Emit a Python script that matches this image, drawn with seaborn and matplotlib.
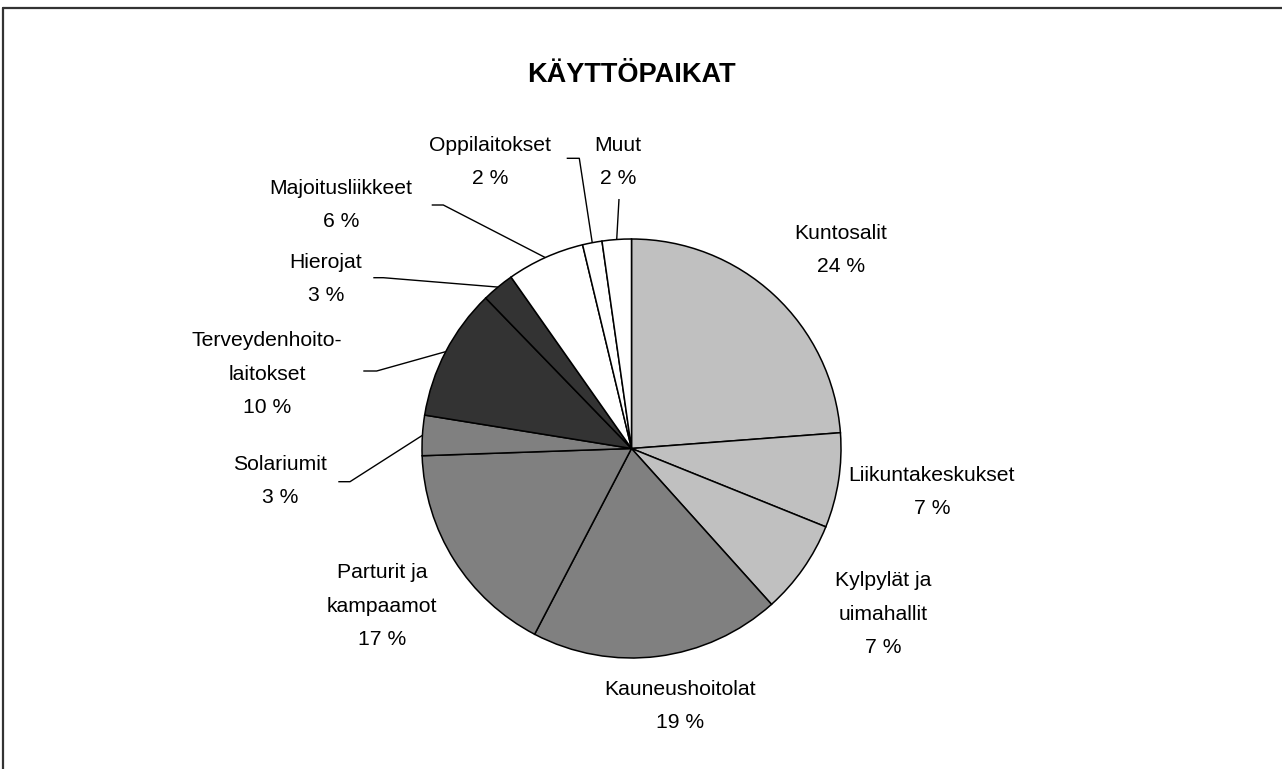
import numpy as np
import matplotlib
matplotlib.use("Agg")
import matplotlib.pyplot as plt
import seaborn as sns

# --- Data ---
categories = ["Kuntosalit", "Liikuntakeskukset", "Kylpylät ja\nuimahallit",
              "Kauneushoitolat", "Parturit ja\nkampaamot", "Solariumit",
              "Terveydenhoito-\nlaitokset", "Hierojat", "Majoitusliikkeet",
              "Oppilaitokset", "Muut"]
shares = [23.8, 7.3, 7.25, 19.3, 16.8, 3.1, 10.2, 2.5, 6.0, 1.5, 2.25]
pct_labels = ["24 %", "7 %", "7 %", "19 %", "17 %", "3 %",
              "10 %", "3 %", "6 %", "2 %", "2 %"]
slice_colors = ["#c0c0c0", "#c0c0c0", "#c0c0c0", "#808080", "#808080", "#808080",
                "#333333", "#333333", "#ffffff", "#ffffff", "#ffffff"]

# --- Layout (pixel coordinates, y measured from top) ---
W, H = 1282, 769
CX, CY, R = 631.5, 448.5, 209.5
label_pos = [(841, 250), (932, 492), (883, 614), (680, 706), (382, 606),
             (280, 481), (267, 374), (326, 279), (341, 205), (490, 162), (618, 162)]
# leader line start points: horizontal stub, then on to the slice rim
leaders = {
    5: [(338.3, 481.7), (350, 481.7)],
    6: [(363.3, 371), (376.7, 371)],
    7: [(373.3, 277.7), (383.3, 277.7)],
    8: [(431.7, 205), (443.3, 205)],
    9: [(566.7, 158.3), (579.3, 158.3)],
    10: [(619, 199)],
}


def Y(y):
    return H - y


sns.set_theme(style="white")
plt.rcParams["font.family"] = ["Liberation Sans", "DejaVu Sans"]

fig = plt.figure(figsize=(W / 100, H / 100), dpi=100)
ax = fig.add_axes([0, 0, 1, 1])

wedges, _ = ax.pie(shares, colors=slice_colors, startangle=90, counterclock=False,
                   center=(CX, Y(CY)), radius=R, frame=True,
                   wedgeprops=dict(edgecolor="black", linewidth=1.1))
ax.set_xlim(0, W)
ax.set_ylim(0, H)
ax.set_aspect("equal")
ax.axis("off")

for i, (name, pct) in enumerate(zip(categories, pct_labels)):
    x, y = label_pos[i]
    ax.text(x, Y(y), f"{name}\n{pct}", ha="center", va="center",
            fontsize=15.2, linespacing=1.95, color="black")

# leader lines to the middle of each small slice
for i, pts in leaders.items():
    w = wedges[i]
    mid = np.deg2rad((w.theta1 + w.theta2) / 2)
    rim = (CX + R * np.cos(mid), Y(CY) + R * np.sin(mid))
    xs = [p[0] for p in pts] + [rim[0]]
    ys = [Y(p[1]) for p in pts] + [rim[1]]
    ax.plot(xs, ys, color="black", linewidth=1.0, solid_capstyle="butt")

ax.text(CX, Y(75), "KÄYTTÖPAIKAT", ha="center", va="center",
        fontsize=19.5, fontweight="bold", color="black")

# chart frame (cut at right and bottom)
ax.plot([3, W], [Y(8), Y(8)], color="#333333", linewidth=1.6, clip_on=False)
ax.plot([3, 3], [Y(8), 0], color="#333333", linewidth=1.6, clip_on=False)

fig.savefig("out.png", dpi=100)
